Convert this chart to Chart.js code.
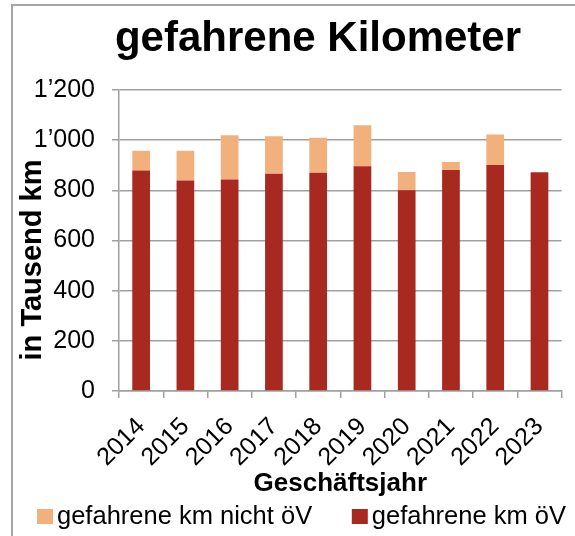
<!DOCTYPE html>
<html><head><meta charset="utf-8">
<script src="https://cdn.jsdelivr.net/npm/chart.js@4.4.0/dist/chart.umd.min.js"></script>
<style>html,body{margin:0;padding:0;background:#fff}#wrap{width:575px;height:536px;position:relative}</style>
</head><body><div id="wrap"><canvas id="c" width="575" height="536"></canvas></div>
<script>
const years = ['2014','2015','2016','2017','2018','2019','2020','2021','2022','2023'];
const kmOeV = [879, 839, 843, 866, 870, 896, 800, 881, 901, 872];
const kmNichtOeV = [79, 119, 177, 150, 140, 163, 73, 32, 122, null];
const yTickValues = [0, 200, 400, 600, 800, 1000, 1200];
const chartTitle = 'gefahrene Kilometer';
const yTitle = 'in Tausend km';
const xTitle = 'Geschäftsjahr';
const seriesOeV = 'gefahrene km öV';
const seriesNichtOeV = 'gefahrene km nicht öV';

const FONT = "'Liberation Sans', Arial, sans-serif";
const RED = '#a8291f';
const ORANGE = '#f1b07c';
const GRID = '#a0a0a0';

const decor = {
  id: 'decor',
  beforeDraw(chart) {
    const ctx = chart.ctx;
    ctx.save();
    ctx.fillStyle = '#fff';
    ctx.fillRect(0, 0, chart.width, chart.height);
    ctx.strokeStyle = '#a6a6a6';
    ctx.lineWidth = 2;
    ctx.beginPath();
    ctx.moveTo(12, chart.height);
    ctx.lineTo(12, 5);
    ctx.lineTo(chart.width, 5);
    ctx.stroke();
    ctx.restore();
  },
  afterDraw(chart) {
    const ctx = chart.ctx;
    ctx.save();
    ctx.fillStyle = '#000';
    // chart title
    ctx.font = 'bold 42px ' + FONT;
    ctx.textAlign = 'center';
    ctx.textBaseline = 'alphabetic';
    ctx.fillText(chartTitle, 318, 51);
    // legend (reverse dataset order), boxes close to the text
    ctx.font = '25.5px ' + FONT;
    ctx.textAlign = 'left';
    ctx.textBaseline = 'middle';
    const items = chart.data.datasets.slice().reverse();
    const w1 = ctx.measureText(items[1].label).width;
    const xs = [37, 566 - w1 - 20];
    items.forEach((ds, i) => {
      ctx.fillStyle = ds.backgroundColor;
      ctx.fillRect(xs[i], 509, 16, 15);
      ctx.fillStyle = '#000';
      ctx.fillText(ds.label, xs[i] + 20, 517);
    });
    // y axis title
    ctx.translate(33, 260);
    ctx.rotate(-Math.PI / 2);
    ctx.font = 'bold 29px ' + FONT;
    ctx.textAlign = 'center';
    ctx.textBaseline = 'middle';
    ctx.fillText(yTitle, 0, 0);
    ctx.restore();
  }
};

new Chart(document.getElementById('c'), {
  type: 'bar',
  data: {
    labels: years,
    datasets: [
      { label: seriesOeV, data: kmOeV, backgroundColor: RED, borderWidth: 0 },
      { label: seriesNichtOeV, data: kmNichtOeV, backgroundColor: ORANGE, borderWidth: 0 }
    ]
  },
  options: {
    responsive: false,
    animation: false,
    layout: { padding: { top: 90, right: 6, bottom: 37, left: 0 } },
    datasets: { bar: { barPercentage: 0.4, categoryPercentage: 1 } },
    plugins: {
      title: { display: false },
      tooltip: { enabled: false },
      legend: { display: false }
    },
    scales: {
      x: {
        stacked: true,
        grid: { display: true, offset: true, drawOnChartArea: false, drawTicks: true, tickLength: 7, color: GRID, lineWidth: 1.5 },
        border: { display: true, color: GRID, width: 1.5 },
        ticks: { color: '#000', font: { family: FONT, size: 25 }, autoSkip: false, minRotation: 45, maxRotation: 45, padding: 14 },
        title: { display: true, text: xTitle, color: '#000', font: { family: FONT, size: 26, weight: 'bold' }, padding: { top: 0, bottom: 0 } },
        afterFit(scale) { scale.height = 108; }
      },
      y: {
        stacked: true,
        min: 0, max: 1200,
        afterBuildTicks(scale) { scale.ticks = yTickValues.map(v => ({ value: v })); },
        grid: { color: GRID, lineWidth: 1.5, tickLength: 7, drawTicks: true },
        border: { display: true, color: GRID, width: 1.5 },
        ticks: {
          color: '#000', font: { family: FONT, size: 25 }, padding: 17,
          callback: v => String(v).replace(/\B(?=(\d{3})+(?!\d))/g, '\u2019')
        },
        afterFit(scale) { scale.width = 119; scale.paddingTop = 0; scale.paddingBottom = 0; }
      }
    }
  },
  plugins: [decor]
});
</script>
</body></html>
